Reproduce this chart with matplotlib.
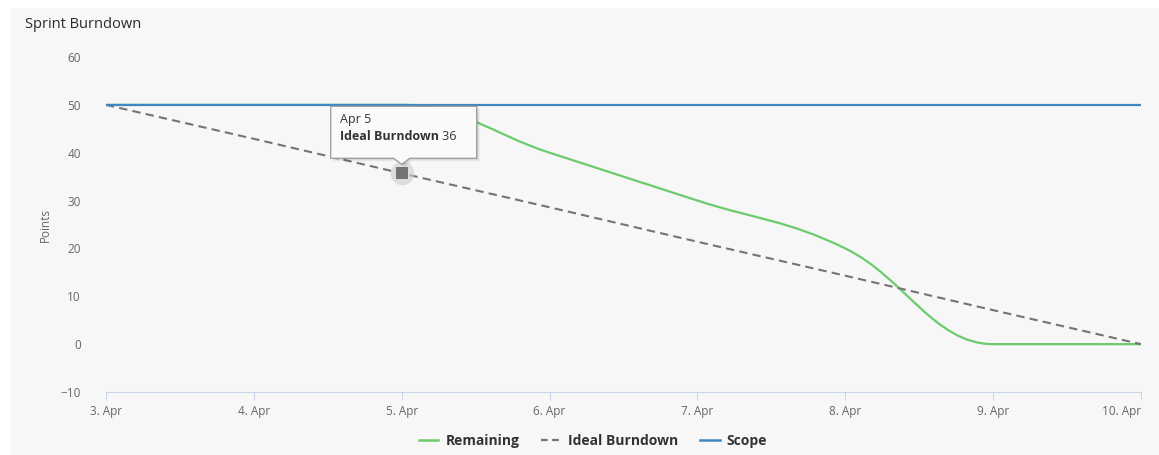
"""Sprint burndown chart"""

import matplotlib

matplotlib.use("Agg")
import matplotlib.pyplot as plt
import matplotlib.transforms as mtransforms
from matplotlib.lines import Line2D
from matplotlib.patches import Polygon, Rectangle, PathPatch
from matplotlib.path import Path

plt.rcParams["font.family"] = ["Open Sans", "DejaVu Sans"]

# Data
days = [3, 4, 5, 6, 7, 8, 9, 10]
day_labels = ["3. Apr", "4. Apr", "5. Apr", "6. Apr", "7. Apr", "8. Apr", "9. Apr", "10. Apr"]
remaining = [50, 50, 50, 40, 30, 20, 0, 0]
ideal = [50, 42.9, 35.7, 28.6, 21.4, 14.3, 7.1, 0]
scope = [50, 50, 50, 50, 50, 50, 50, 50]
y_ticks = [-10, 0, 10, 20, 30, 40, 50, 60]
hover_day = 5
hover_value = 36

green = "#6ccb6c"
blue = "#3c87c4"
grey = "#747474"


def spline_path(xs, ys, smoothing=1.5):
    """Highcharts-like spline as a bezier path"""
    n = len(xs)
    denom = smoothing + 1
    right = [(x, y) for x, y in zip(xs, ys)]
    left = [(x, y) for x, y in zip(xs, ys)]
    for i in range(1, n - 1):
        px, py = xs[i], ys[i]
        lx, ly = xs[i - 1], ys[i - 1]
        nx, ny = xs[i + 1], ys[i + 1]
        lcx = (smoothing * px + lx) / denom
        lcy = (smoothing * py + ly) / denom
        rcx = (smoothing * px + nx) / denom
        rcy = (smoothing * py + ny) / denom
        corr = (rcy - lcy) * (rcx - px) / (rcx - lcx) + py - rcy
        lcy += corr
        rcy += corr
        if lcy > ly and lcy > py:
            lcy = max(ly, py)
            rcy = 2 * py - lcy
        elif lcy < ly and lcy < py:
            lcy = min(ly, py)
            rcy = 2 * py - lcy
        if rcy > ny and rcy > py:
            rcy = max(ny, py)
            lcy = 2 * py - rcy
        elif rcy < ny and rcy < py:
            rcy = min(ny, py)
            lcy = 2 * py - rcy
        left[i] = (lcx, lcy)
        right[i] = (rcx, rcy)
    verts = [(xs[0], ys[0])]
    codes = [Path.MOVETO]
    for i in range(1, n):
        verts += [right[i - 1], left[i], (xs[i], ys[i])]
        codes += [Path.CURVE4] * 3
    return Path(verts, codes)


fig = plt.figure(figsize=(11.59, 4.55), dpi=100)
fig.patch.set_facecolor("white")
fig.patches.append(
    Rectangle((10 / 1159, 0), 1, 447 / 455, transform=fig.transFigure,
              facecolor="#f7f7f7", edgecolor="none", zorder=-10)
)

ax = fig.add_axes([106 / 1159, 63 / 455, 1035 / 1159, 335 / 455])
ax.set_facecolor("none")

ax.add_patch(PathPatch(spline_path(days, remaining), facecolor="none",
                       edgecolor=green, linewidth=1.6, zorder=2))
ax.plot(days, ideal, color=grey, linewidth=1.5, linestyle=(0, (4, 2.5)), zorder=3)
ax.plot(days, scope, color=blue, linewidth=1.6, zorder=4)

ax.set_xlim(days[0], days[-1])
ax.set_ylim(y_ticks[0], y_ticks[-1])
ax.set_xticks(days)
ax.set_xticklabels(day_labels)
ax.set_yticks(y_ticks)
ax.set_yticklabels([str(t).replace("-", "\u2212") for t in y_ticks])
ax.xaxis.get_ticklabels()[-1].set_horizontalalignment("right")

for side in ["top", "right", "left"]:
    ax.spines[side].set_visible(False)
ax.spines["bottom"].set_color("#ccd6eb")
ax.tick_params(axis="x", length=6, color="#ccd6eb", labelcolor="#666666",
               labelsize=8.5, pad=3)
ax.tick_params(axis="y", length=0, labelcolor="#666666", labelsize=8.5, pad=18)
ax.set_ylabel("Points", color="#666666", fontsize=8.5, labelpad=6)

fig.text(25 / 1159, 1 - 25 / 455, "Sprint Burndown", fontsize=10.5,
         color="#2b2b2b", va="center", ha="left", fontweight="medium")

# hovered marker on the ideal line
hy = ideal[days.index(hover_day)]
ax.plot([hover_day], [hy], marker="o", markersize=17,
        color="#cccccc", alpha=0.6, markeredgewidth=0, zorder=5)
ax.plot([hover_day], [hy], marker="s", markersize=8,
        color=grey, markeredgewidth=0, zorder=6)

# tooltip
tip = mtransforms.Affine2D() + mtransforms.ScaledTranslation(hover_day, hy, ax.transData)
box = [(-71, 15), (-8, 15), (0, 9), (8, 15), (75, 15), (75, 67), (-71, 67)]
for k in range(1, 4):
    sh_tr = mtransforms.Affine2D().translate(k, -k) + tip
    ax.add_patch(Polygon(box, closed=True, transform=sh_tr, facecolor="black",
                         alpha=0.05, edgecolor="none", zorder=7, clip_on=False))
ax.add_patch(Polygon(box, closed=True, transform=tip, facecolor="#fafafa",
                     edgecolor="#999999", linewidth=0.9, zorder=8, clip_on=False))
ax.annotate(f"Apr {hover_day}", (hover_day, hy), xytext=(-62 * 0.72, 54 * 0.72),
            textcoords="offset points", fontsize=9, color="#333333",
            va="center", ha="left", zorder=9)
bold = ax.annotate("Ideal Burndown", (hover_day, hy), xytext=(-62 * 0.72, 37 * 0.72),
                   textcoords="offset points", fontsize=9, fontweight="bold",
                   color="#333333", va="center", ha="left", zorder=9)
fig.canvas.draw()
bw = bold.get_window_extent().width
ax.annotate(f" {hover_value}", (hover_day, hy), xytext=((-62 + bw) * 0.72, 37 * 0.72),
            textcoords="offset points", fontsize=9, color="#333333",
            va="center", ha="left", zorder=9)

# legend
handles = [
    Line2D([], [], color=green, linewidth=1.8),
    Line2D([], [], color=grey, linewidth=1.6, linestyle=(0, (3, 2))),
    Line2D([], [], color=blue, linewidth=1.8),
]
leg = fig.legend(handles, ["Remaining", "Ideal Burndown", "Scope"], loc="center",
                 bbox_to_anchor=(593 / 1159, 1 - 441 / 455), ncol=3, frameon=False,
                 handlelength=1.4, columnspacing=1.6, handletextpad=0.5,
                 prop={"weight": "bold", "size": 10})
for t in leg.get_texts():
    t.set_color("#333333")

fig.savefig("out.png", dpi=100, facecolor=fig.get_facecolor())
